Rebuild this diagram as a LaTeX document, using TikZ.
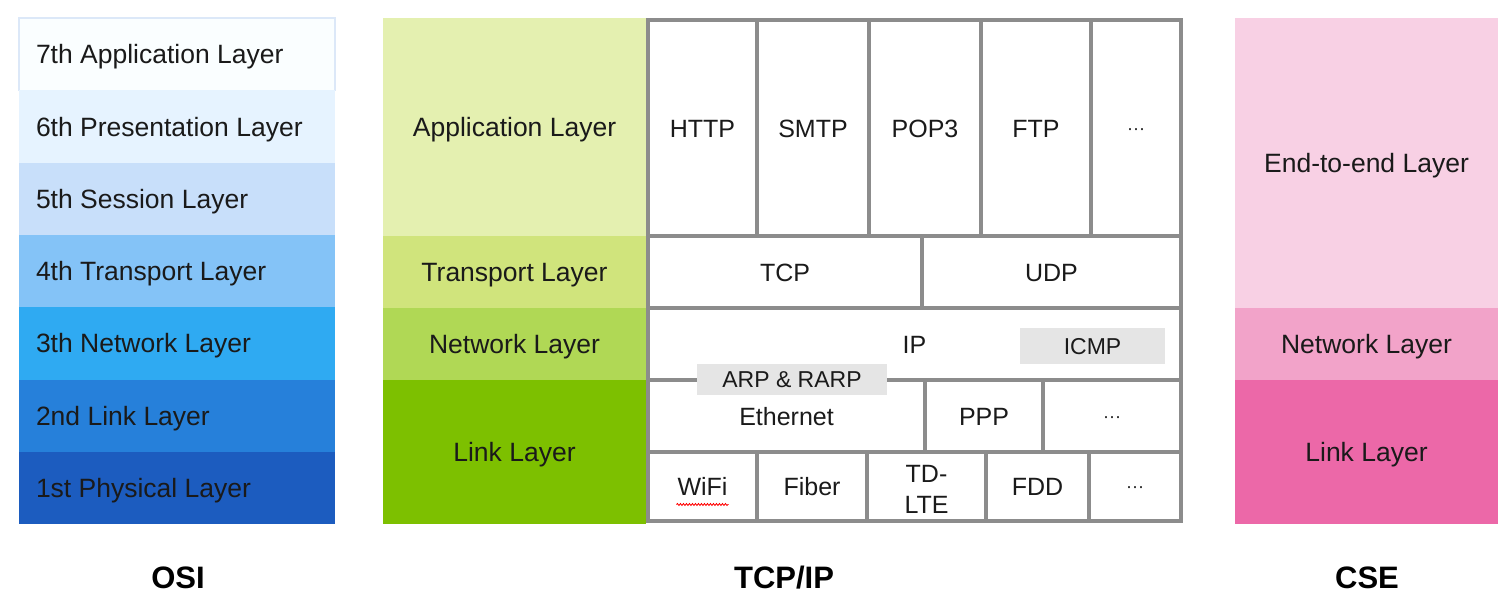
\documentclass[tikz,border=0pt]{standalone}
\usepackage{fontspec}
\setmainfont{Liberation Sans}
\usetikzlibrary{calc,positioning,decorations.pathmorphing}

% OSI blues
\definecolor{osiseven}{HTML}{FAFEFF}
\definecolor{osiedge}{HTML}{DCE8F8}
\definecolor{osisix}{HTML}{E6F3FF}
\definecolor{osifive}{HTML}{C8DFFA}
\definecolor{osifour}{HTML}{84C3F7}
\definecolor{osithree}{HTML}{2FAAF2}
\definecolor{ositwo}{HTML}{2680DA}
\definecolor{osione}{HTML}{1C5CBF}
% TCP/IP greens
\definecolor{tcpapp}{HTML}{E4F0B0}
\definecolor{tcptrans}{HTML}{D0E47C}
\definecolor{tcpnet}{HTML}{B0D855}
\definecolor{tcplink}{HTML}{7DC000}
% CSE pinks
\definecolor{cseend}{HTML}{F8D0E4}
\definecolor{csenet}{HTML}{F2A3C9}
\definecolor{cselink}{HTML}{EC68A8}
% grid
\definecolor{gridgray}{HTML}{8C8C8C}
\definecolor{taggray}{HTML}{E5E5E5}
\definecolor{ink}{HTML}{1A1A1A}

\begin{document}
\begin{tikzpicture}[x=1pt, y=-1pt,
  osilayer/.style={inner xsep=17pt, inner ysep=0pt, outer sep=0pt,
    text width=282pt, align=flush left, minimum height=72.3pt,
    text height=19pt, text depth=0pt,
    text=ink, font=\fontsize{26.5}{30}\selectfont},
  stacklayer/.style={inner sep=0pt, outer sep=0pt, minimum width=263pt,
    text height=19pt, text depth=0pt,
    text=ink, font=\fontsize{26.5}{30}\selectfont},
  cell/.style={draw=gridgray, line width=4.5pt, fill=white, inner sep=0pt,
    outer sep=0pt, text height=18pt, text depth=0pt,
    text=ink, font=\fontsize{25}{30}\selectfont},
  tag/.style={fill=taggray, inner sep=0pt, outer sep=0pt,
    text height=16.5pt, text depth=0pt, text=ink,
    font=\fontsize{23}{28}\selectfont},
  dots/.style={text height=12pt, font=\fontsize{18}{20}\selectfont},
  title/.style={font=\fontsize{31}{34}\selectfont\bfseries, text=black},
  squiggle/.style={red, line width=0.8pt,
    decorate, decoration={snake, amplitude=1pt, segment length=3pt}}]

  \useasboundingbox (0,0) rectangle (1509,606);

  % OSI stack
  \node[osilayer, fill=osiseven, draw=osiedge, line width=1.5pt,
    minimum height=72.3pt] (osi7) at (177,54.2) {7th Application Layer};
  \node[osilayer, fill=osisix, below=0pt of osi7] (osi6) {6th Presentation Layer};
  \node[osilayer, fill=osifive, below=0pt of osi6] (osi5) {5th Session Layer};
  \node[osilayer, fill=osifour, below=0pt of osi5] (osi4) {4th Transport Layer};
  \node[osilayer, fill=osithree, below=0pt of osi4] (osi3) {3th Network Layer};
  \node[osilayer, fill=ositwo, below=0pt of osi3] (osi2) {2nd Link Layer};
  \node[osilayer, fill=osione, below=0pt of osi2] (osi1) {1st Physical Layer};

  % TCP/IP stack
  \node[stacklayer, fill=tcpapp, minimum height=218pt] (tcpapp) at (514.5,127) {Application Layer};
  \node[stacklayer, fill=tcptrans, minimum height=72pt, below=0pt of tcpapp] (tcptrans) {Transport Layer};
  \node[stacklayer, fill=tcpnet, minimum height=72pt, below=0pt of tcptrans] (tcpnet) {Network Layer};
  \node[stacklayer, fill=tcplink, minimum height=144pt, below=0pt of tcpnet] (tcplink) {Link Layer};

  % Protocol grid: application row
  \node[cell, minimum width=109pt, minimum height=216pt] (http) at (702.5,128) {HTTP};
  \node[cell, minimum width=112pt, minimum height=216pt] (smtp) at (813,128) {SMTP};
  \node[cell, minimum width=112pt, minimum height=216pt] (pop) at (925,128) {POP3};
  \node[cell, minimum width=110pt, minimum height=216pt] (ftp) at (1036,128) {FTP};
  \node[cell, dots, minimum width=90pt, minimum height=216pt] (appmore) at (1136,128) {···};

  % transport row
  \node[cell, minimum width=274pt, minimum height=72pt] (tcp) at (785,272) {TCP};
  \node[cell, minimum width=259pt, minimum height=72pt] (udp) at (1051.5,272) {UDP};

  % network row
  \node[cell, minimum width=533pt, minimum height=72pt] (ip) at (914.5,344) {IP};

  % link rows
  \node[cell, minimum width=277pt, minimum height=72pt] (ether) at (786.5,416) {Ethernet};
  \node[cell, minimum width=118pt, minimum height=72pt] (ppp) at (984,416) {PPP};
  \node[cell, dots, minimum width=138pt, minimum height=72pt] (linkmore) at (1112,416) {···};

  \node[cell, minimum width=109pt, minimum height=69pt] (wifi) at (702.5,486.5) {WiFi};
  \node[cell, minimum width=110pt, minimum height=69pt] (fiber) at (812,486.5) {Fiber};
  \node[cell, minimum width=119pt, minimum height=69pt] (tdlte) at (926.5,486.5) {};
  \node[inner sep=0pt, align=center, text=ink, font=\fontsize{25}{31}\selectfont]
    (tdltetext) at ($(tdlte.center)+(0,3)$) {TD-\\LTE};
  \node[cell, minimum width=103pt, minimum height=69pt] (fdd) at (1037.5,486.5) {FDD};
  \node[cell, dots, minimum width=92pt, minimum height=69pt] (physmore) at (1135,486.5) {···};

  % spell-check mark under WiFi
  \draw[squiggle] ($(wifi.center)+(-26,18)$) -- ($(wifi.center)+(26,18)$);

  % helper protocols
  \node[tag, minimum width=145pt, minimum height=36pt] (icmp) at (1092.5,346) {ICMP};
  \node[tag, minimum width=190pt, minimum height=31pt] (arp) at (792,379.5) {ARP \& RARP};

  % CSE stack
  \node[stacklayer, fill=cseend, minimum height=290pt] (cseend) at (1366.5,163) {End-to-end Layer};
  \node[stacklayer, fill=csenet, minimum height=72pt, below=0pt of cseend] (csenet) {Network Layer};
  \node[stacklayer, fill=cselink, minimum height=144pt, below=0pt of csenet] (cselink) {Link Layer};

  % titles
  \node[title] (osititle) at (178,578) {OSI};
  \node[title] (tcptitle) at (784,578) {TCP/IP};
  \node[title] (csetitle) at (1367,578) {CSE};

\end{tikzpicture}
\end{document}
